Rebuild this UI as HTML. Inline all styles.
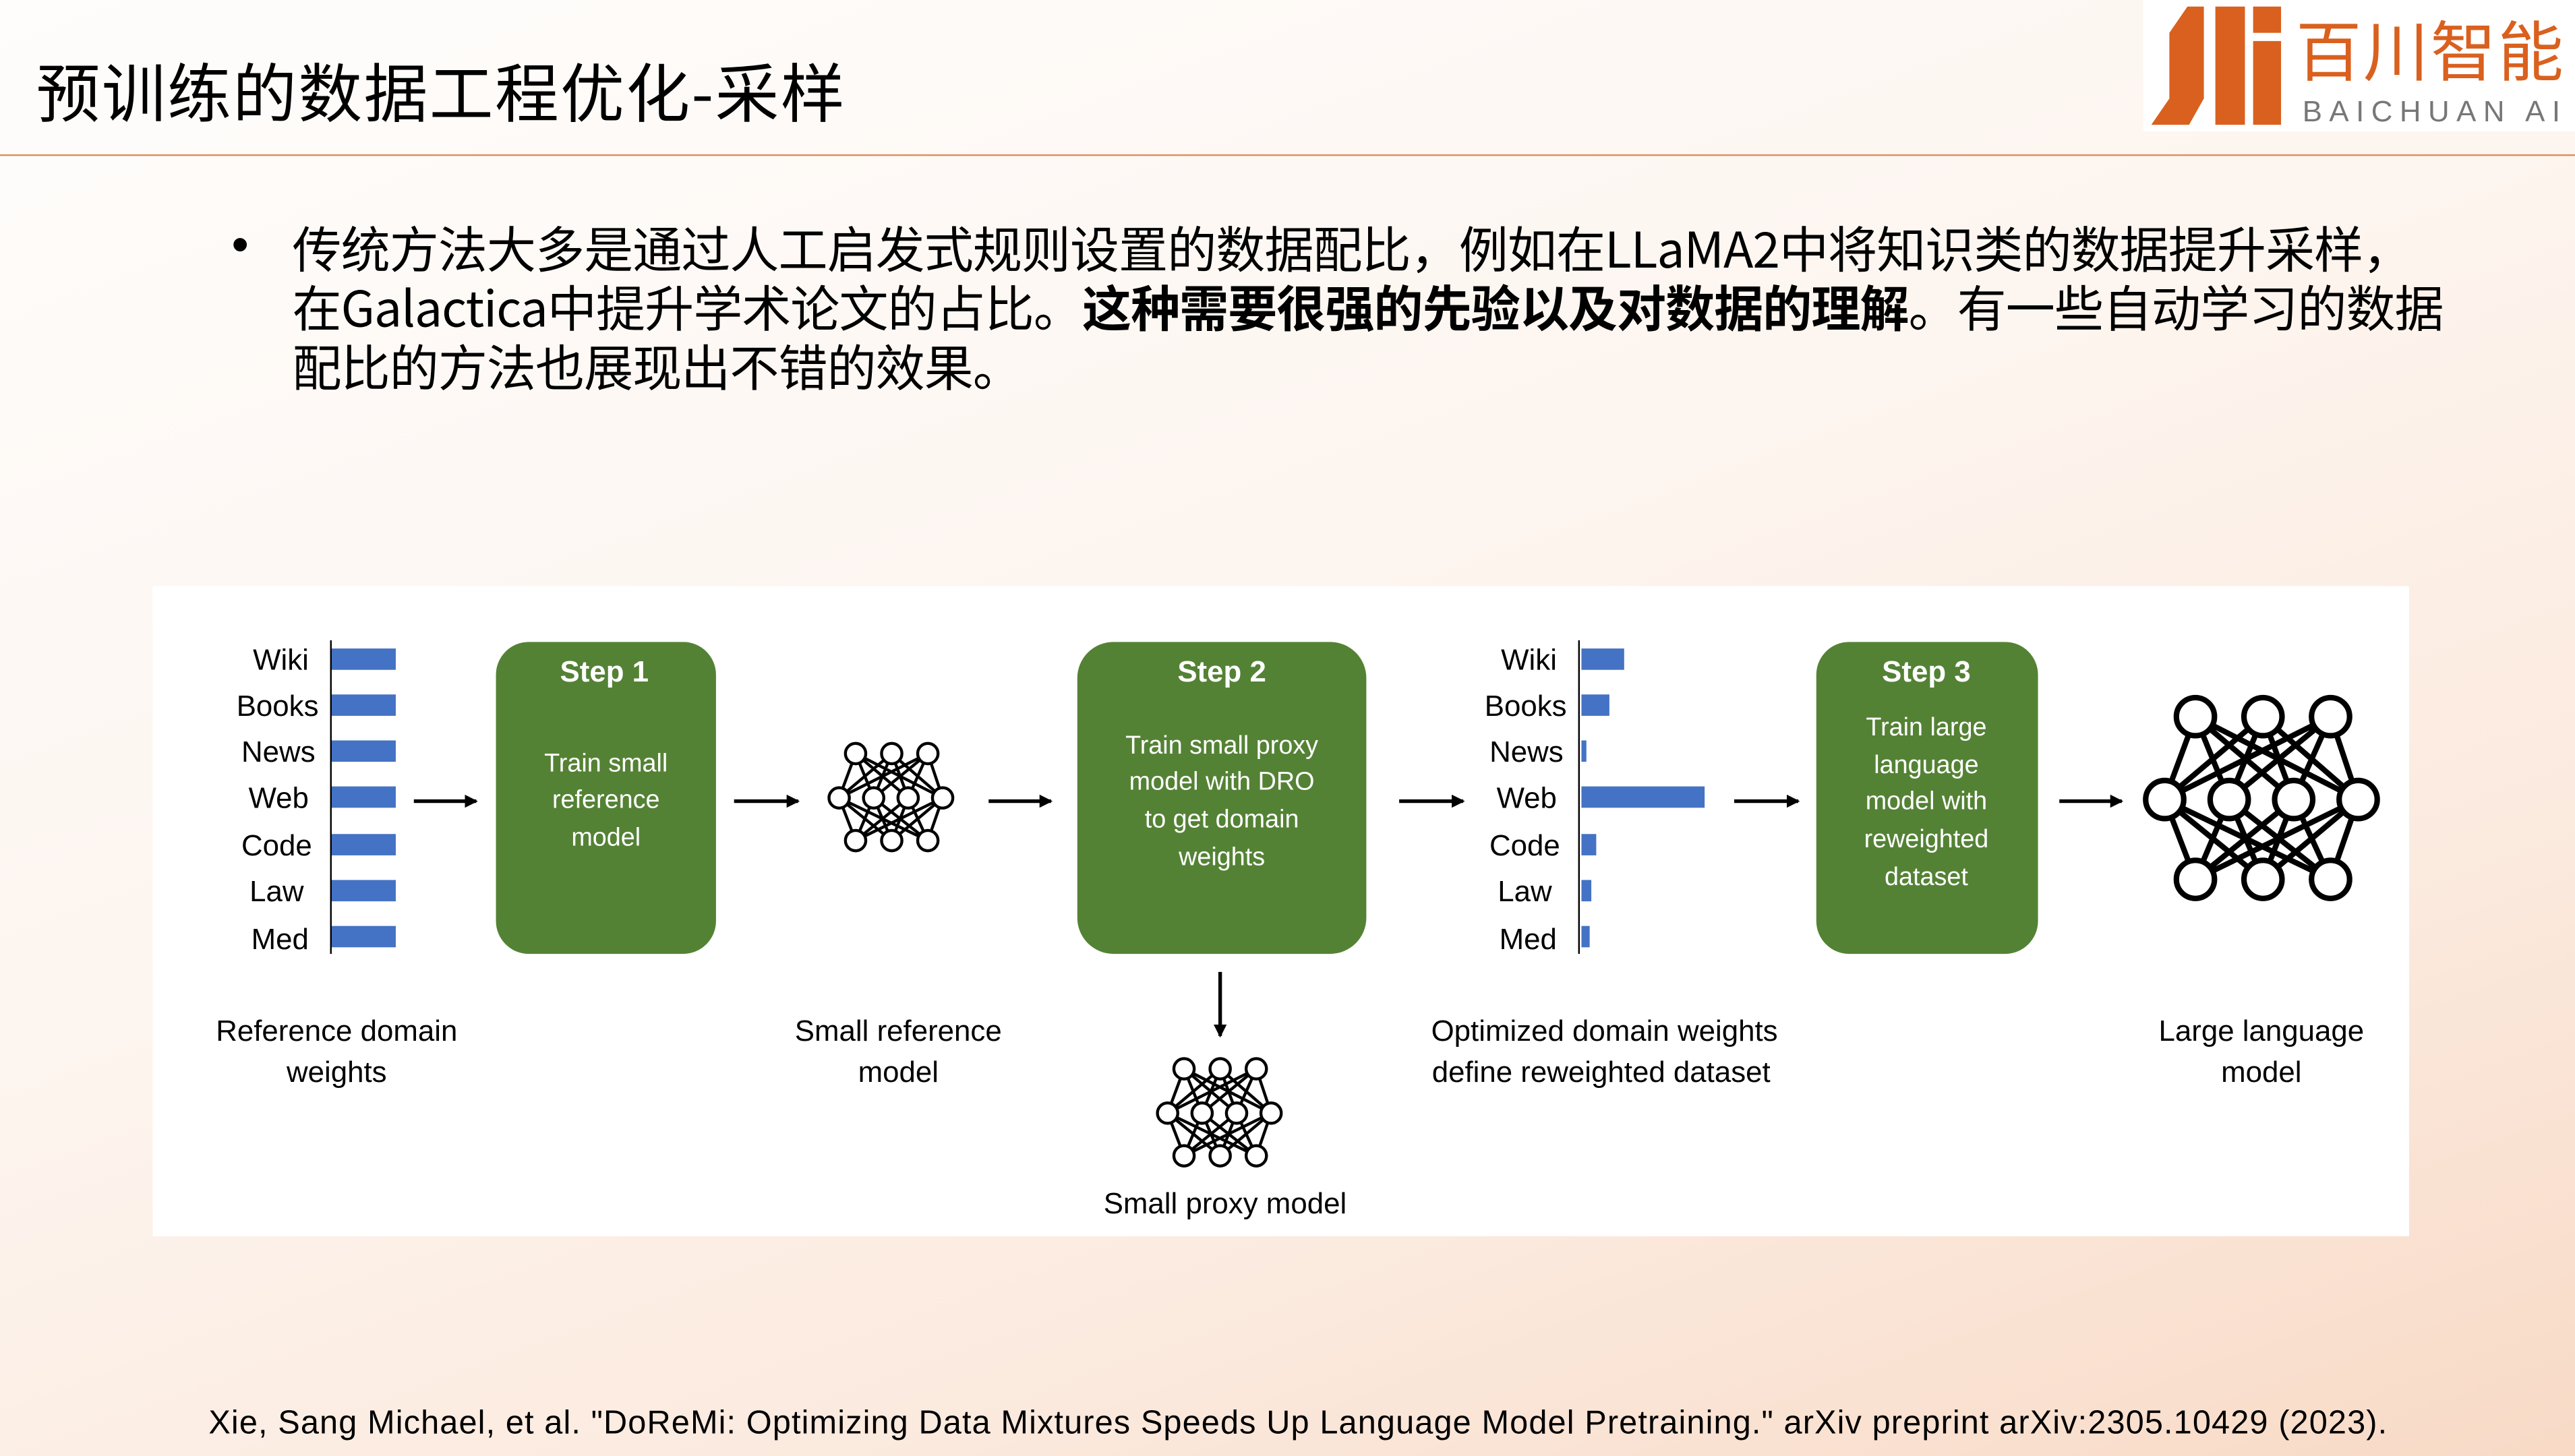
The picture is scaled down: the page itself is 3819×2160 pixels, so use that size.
<!DOCTYPE html>
<html><head><meta charset="utf-8"><style>
html,body{margin:0;padding:0;width:3819px;height:2160px;overflow:hidden}
#w{position:absolute;left:0;top:0;width:1568px;height:887px;transform:scale(2.43559);transform-origin:0 0;
background:linear-gradient(160deg,#fefdfc 0%,#fdf5ef 45%,#fbe9dd 75%,#f8dac6 100%);font-family:"Liberation Sans","Noto Sans CJK SC",sans-serif;color:#000}
.t{position:absolute;white-space:nowrap}
#title{left:22px;top:27px;font-size:39px;font-family:"Noto Sans CJK SC","Liberation Sans",sans-serif;letter-spacing:0.9px}
#hr{position:absolute;left:0;top:94px;width:1568px;height:1px;background:#d99060}
#logo{position:absolute;left:1305px;top:0;width:263px;height:80px;background:#fff}
#bul{left:178px;top:132px;font-size:30px;line-height:36px;font-family:"Noto Sans CJK SC","Liberation Sans",sans-serif;letter-spacing:-0.4px}
#dot{left:141px;top:132px;font-size:30px;line-height:36px}
#cite{left:127px;top:856px;font-size:20px;letter-spacing:0.45px}
</style></head><body><div id="w">
<div class="t" id="title">预训练的数据工程优化-采样</div>
<div id="hr"></div>
<div id="logo">
<svg width="263" height="80" viewBox="0 0 263 80">
<polygon points="27,4 37,4 37,60 28,76 5,76 16,60 16,20" fill="#d9601e"/>
<rect x="44" y="4" width="18" height="72" fill="#d9601e"/>
<rect x="67" y="4" width="17" height="16" fill="#d9601e"/>
<rect x="67" y="25" width="17" height="51" fill="#d9601e"/>
<text x="93" y="46" font-size="40" fill="#d9601e" font-family="Noto Sans CJK SC,sans-serif" textLength="163">百川智能</text>
<text x="97" y="74" font-size="18" fill="#777" textLength="157" font-family="Liberation Sans,sans-serif">BAICHUAN AI</text>
</svg></div>
<div class="t" id="dot">•</div>
<div class="t" id="bul">传统方法大多是通过人工启发式规则设置的数据配比，例如在LLaMA2中将知识类的数据提升采样，<br>在Galactica中提升学术论文的占比。<b>这种需要很强的先验以及对数据的理解</b>。有一些自动学习的数据<br>配比的方法也展现出不错的效果。</div>

<svg style="position:absolute;left:0;top:0" width="1568" height="887" viewBox="0 0 1568 887">
<defs>
<marker id="ah" markerWidth="8" markerHeight="8" refX="7" refY="4" orient="auto" markerUnits="userSpaceOnUse"><path d="M0,0L8,4L0,8z" fill="#000"/></marker>
<g id="nn">
<path fill="none" stroke="#000" stroke-width="1.8" d="M-22-27L-32 0M-22-27L-11 0M-22-27L10 0M-22-27L31 0M0-27L-32 0M0-27L-11 0M0-27L10 0M0-27L31 0M22-27L-32 0M22-27L-11 0M22-27L10 0M22-27L31 0M-22 26L-32 0M-22 26L-11 0M-22 26L10 0M-22 26L31 0M0 26L-32 0M0 26L-11 0M0 26L10 0M0 26L31 0M22 26L-32 0M22 26L-11 0M22 26L10 0M22 26L31 0"/>
<g fill="#fff" stroke="#000" stroke-width="1.8">
<circle cx="-22" cy="-27" r="6.2"/><circle cx="0" cy="-27" r="6.2"/><circle cx="22" cy="-27" r="6.2"/>
<circle cx="-32" cy="0" r="6.2"/><circle cx="-11" cy="0" r="6.2"/><circle cx="10" cy="0" r="6.2"/><circle cx="31" cy="0" r="6.2"/>
<circle cx="-22" cy="26" r="6.2"/><circle cx="0" cy="26" r="6.2"/><circle cx="22" cy="26" r="6.2"/>
</g></g>
</defs>
<rect x="93" y="357" width="1374" height="396" fill="#fff"/>
<g font-family="Liberation Sans,sans-serif" font-size="18" text-anchor="end">
<text x="188" y="408">Wiki</text><text x="194" y="436">Books</text><text x="192" y="464">News</text><text x="188" y="492">Web</text><text x="190" y="521">Code</text><text x="185" y="549">Law</text><text x="188" y="578">Med</text>
<text x="948" y="408">Wiki</text><text x="954" y="436">Books</text><text x="952" y="464">News</text><text x="948" y="492">Web</text><text x="950" y="521">Code</text><text x="945" y="549">Law</text><text x="948" y="578">Med</text>
</g>
<line x1="201.5" y1="390" x2="201.5" y2="581" stroke="#000" stroke-width="1"/>
<g fill="#4472c4">
<rect x="202" y="395" width="39" height="13"/><rect x="202" y="423" width="39" height="13"/><rect x="202" y="451" width="39" height="13"/><rect x="202" y="479" width="39" height="13"/><rect x="202" y="508" width="39" height="13"/><rect x="202" y="536" width="39" height="13"/><rect x="202" y="564" width="39" height="13"/>
<rect x="963" y="395" width="26" height="13"/><rect x="963" y="423" width="17" height="13"/><rect x="963" y="451" width="3" height="13"/><rect x="963" y="479" width="75" height="13"/><rect x="963" y="508" width="9" height="13"/><rect x="963" y="536" width="6" height="13"/><rect x="963" y="564" width="5" height="13"/>
</g>
<line x1="961.5" y1="390" x2="961.5" y2="581" stroke="#000" stroke-width="1"/>
<g stroke="#000" stroke-width="2.2" marker-end="url(#ah)">
<line x1="252" y1="488" x2="290" y2="488"/><line x1="447" y1="488" x2="486" y2="488"/><line x1="602" y1="488" x2="640" y2="488"/><line x1="852" y1="488" x2="891" y2="488"/><line x1="1056" y1="488" x2="1095" y2="488"/><line x1="1254" y1="488" x2="1292" y2="488"/><line x1="743" y1="592" x2="743" y2="631"/>
</g>
<g fill="#548235">
<rect x="302" y="391" width="134" height="190" rx="20"/>
<rect x="656" y="391" width="176" height="190" rx="22"/>
<rect x="1106" y="391" width="135" height="190" rx="20"/>
</g>
<g fill="#fff" font-family="Liberation Sans,sans-serif" text-anchor="middle" font-size="15.5">
<text x="368" y="415" font-weight="bold" font-size="18">Step 1</text>
<text x="369" y="470">Train small</text><text x="369" y="492">reference</text><text x="369" y="515">model</text>
<text x="744" y="415" font-weight="bold" font-size="18">Step 2</text>
<text x="744" y="459">Train small proxy</text><text x="744" y="481">model with DRO</text><text x="744" y="504">to get domain</text><text x="744" y="527">weights</text>
<text x="1173" y="415" font-weight="bold" font-size="18">Step 3</text>
<text x="1173" y="448">Train large</text><text x="1173" y="471">language</text><text x="1173" y="493">model with</text><text x="1173" y="516">reweighted</text><text x="1173" y="539">dataset</text>
</g>
<use href="#nn" transform="translate(543,486)"/>
<use href="#nn" transform="translate(743,678)"/>
<use href="#nn" transform="translate(1378,487) scale(1.87)"/>
<g font-family="Liberation Sans,sans-serif" font-size="18" text-anchor="middle">
<text x="205" y="634">Reference domain</text><text x="205" y="659">weights</text>
<text x="547" y="634">Small reference</text><text x="547" y="659">model</text>
<text x="977" y="634">Optimized domain weights</text><text x="975" y="659">define reweighted dataset</text>
<text x="1377" y="634">Large language</text><text x="1377" y="659">model</text>
<text x="746" y="739">Small proxy model</text>
</g>
</svg>
<div class="t" id="cite">Xie, Sang Michael, et al. "DoReMi: Optimizing Data Mixtures Speeds Up Language Model Pretraining." arXiv preprint arXiv:2305.10429 (2023).</div>
</div></body></html>
